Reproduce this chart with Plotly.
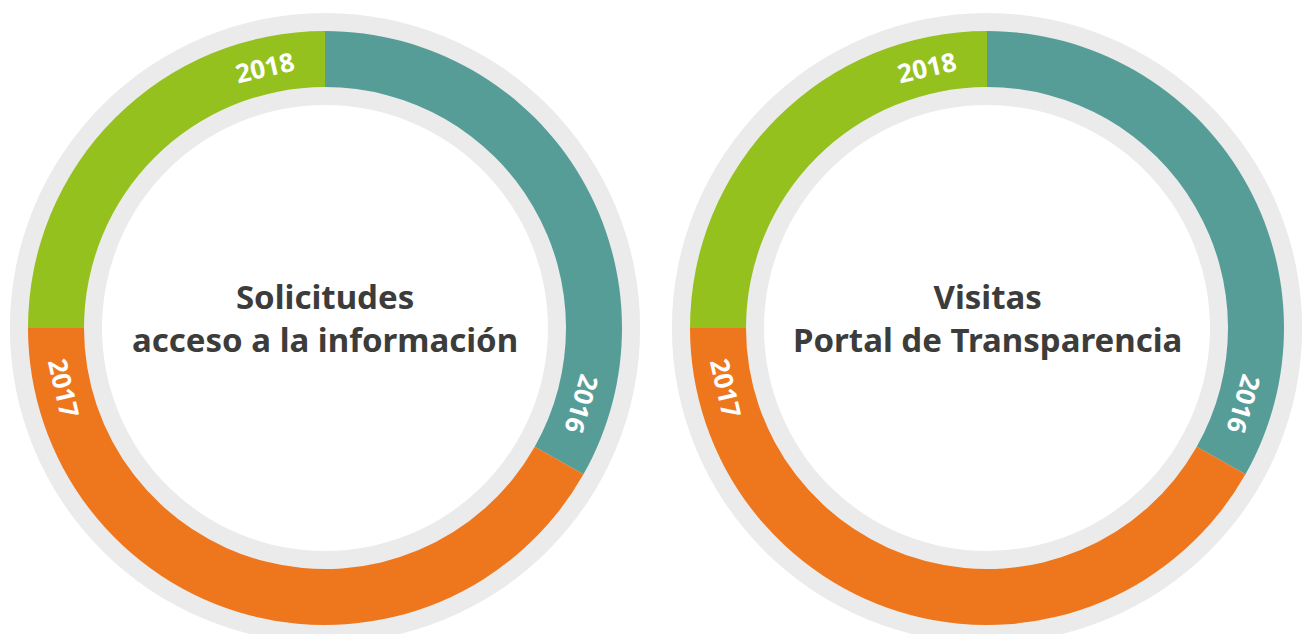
import plotly.graph_objects as go
import math

# ---- data ----
years = ["2016", "2017", "2018"]
solicitudes_share = [33.2, 41.8, 25.0]
visitas_share = [33.2, 41.8, 25.0]
chart_titles = ["Solicitudes<br>acceso a la información", "Visitas<br>Portal de Transparencia"]

# ---- style ----
colors = ["#569d98", "#ee771d", "#95c11f"]
ring_gray = "#ebebeb"
text_dark = "#3c3c3b"
FONT = "Noto Sans"

W, H = 1302, 650          # page photographed at 1302x634 -> bottom of rings cropped
CY = 328                  # centre y (px from top)
centres_x = [325, 987]
R_GRAY_OUT, R_GRAY_IN = 315, 223
R_COL_OUT, R_COL_IN = 297, 241
LABEL_R = 268
LABEL_BACK_DEG = 13.0
TITLE_DY = 10             # title block sits slightly above ring centre


def dom(cx, r):
    cyb = H - CY
    x0, x1 = max(0.0, (cx - r) / W), min(1.0, (cx + r) / W)
    y0, y1 = max(0.0, (cyb - r) / H), min(1.0, (cyb + r) / H)
    return dict(x=[x0, x1], y=[y0, y1])

fig = go.Figure()
annotations = []
for cx, vals, title in zip(centres_x, [solicitudes_share, visitas_share], chart_titles):
    # background gray ring
    fig.add_trace(go.Pie(values=[1], labels=["fondo"], marker=dict(colors=[ring_gray], line=dict(width=0)),
                         hole=R_GRAY_IN / R_GRAY_OUT, domain=dom(cx, R_GRAY_OUT), textinfo="none",
                         hoverinfo="skip", sort=False, showlegend=False))
    # coloured ring
    fig.add_trace(go.Pie(values=vals, labels=years, marker=dict(colors=colors, line=dict(width=0)),
                         hole=R_COL_IN / R_COL_OUT, domain=dom(cx, R_COL_OUT), textinfo="none",
                         sort=False, direction="clockwise", rotation=0, showlegend=False))
    total = sum(vals)
    cum = 0.0
    for y, v in zip(years, vals):
        cum += v
        end_deg = 360.0 * cum / total
        th = end_deg - LABEL_BACK_DEG
        rad = math.radians(th)
        px = cx + LABEL_R * math.sin(rad)
        py = CY - LABEL_R * math.cos(rad)
        t = th % 360
        ang = t if (t < 180 or t > 300) else t - 180
        if ang > 180:
            ang -= 360
        annotations.append(dict(x=px / W, y=(H - py) / H, xref="paper", yref="paper",
                                text="<b>%s</b>" % y, showarrow=False, textangle=ang,
                                xanchor="center", yanchor="middle",
                                font=dict(family=FONT, size=26, color="white")))
    annotations.append(dict(x=cx / W, y=(H - CY + TITLE_DY) / H, xref="paper", yref="paper",
                            text="<b>%s</b>" % title, showarrow=False, align="center",
                            xanchor="center", yanchor="middle",
                            font=dict(family=FONT, size=33, color=text_dark)))

fig.update_layout(width=W, height=H, margin=dict(l=0, r=0, t=0, b=0),
                  paper_bgcolor="white", plot_bgcolor="white",
                  annotations=annotations, showlegend=False)

fig.write_html("out.html", config={"displayModeBar": False},
               post_script="document.body.style.margin='0';document.body.style.overflow='hidden';document.documentElement.style.overflow='hidden';")
